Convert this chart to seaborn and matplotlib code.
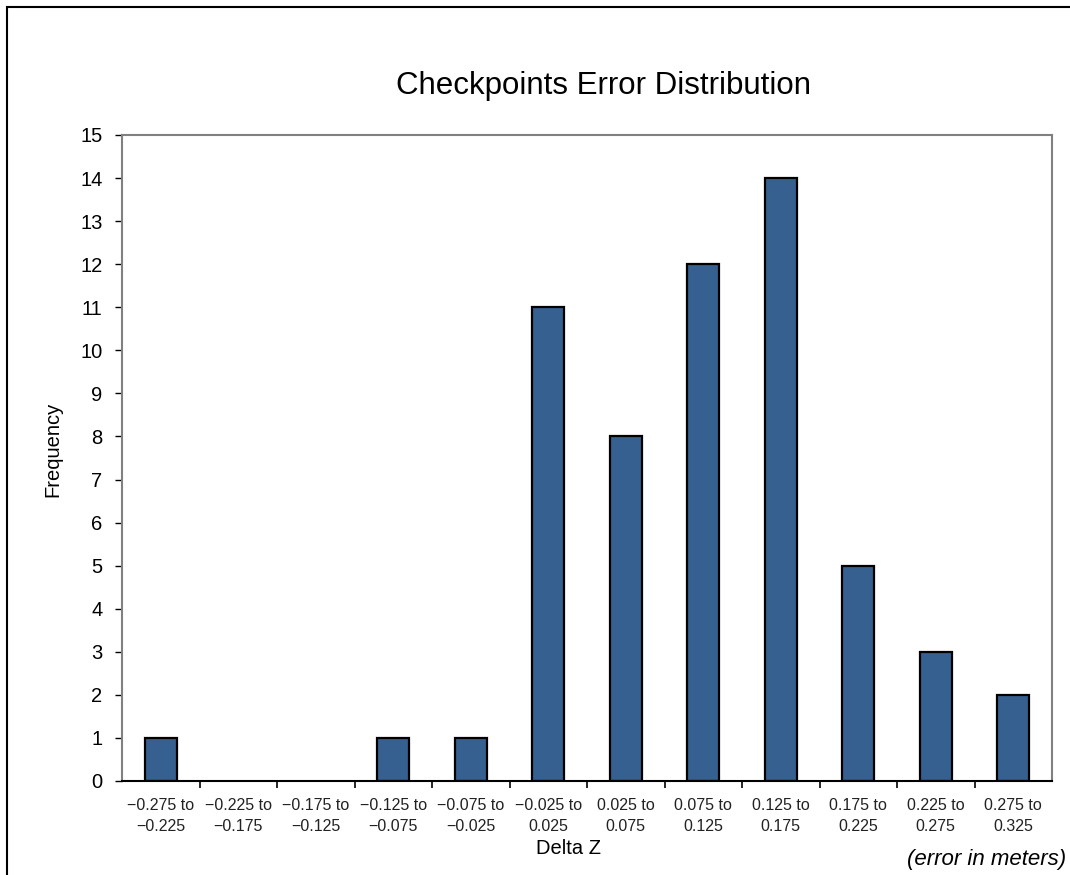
import matplotlib
matplotlib.use("Agg")
import matplotlib.pyplot as plt
from matplotlib.patches import Rectangle
from matplotlib.ticker import FixedLocator, NullFormatter
import seaborn as sns
import pandas as pd

# Error bins (metres) and checkpoint counts
bin_labels = [
    "\u22120.275 to\n\u22120.225", "\u22120.225 to\n\u22120.175", "\u22120.175 to\n\u22120.125",
    "\u22120.125 to\n\u22120.075", "\u22120.075 to\n\u22120.025", "\u22120.025 to\n0.025",
    "0.025 to\n0.075", "0.075 to\n0.125", "0.125 to\n0.175",
    "0.175 to\n0.225", "0.225 to\n0.275", "0.275 to\n0.325",
]
frequency = [1, 0, 0, 1, 1, 11, 8, 12, 14, 5, 3, 2]
y_ticks = list(range(0, 16))

df = pd.DataFrame({"bin": bin_labels, "freq": frequency})

sns.set_theme(style="white")
plt.rcParams["font.family"] = ["Liberation Sans", "DejaVu Sans"]
plt.rcParams["text.color"] = "black"

fig = plt.figure(figsize=(10.7, 8.75), dpi=100)
ax = fig.add_axes([122 / 1070, 1 - 781 / 875, (1052 - 122) / 1070, (781 - 135) / 875])

sns.barplot(data=df, x="bin", y="freq", color="#36608F", saturation=1,
            width=0.41, edgecolor="black", linewidth=1.6, ax=ax)

# empty bins get no outline
for patch in ax.patches:
    if patch.get_height() == 0:
        patch.set_linewidth(0)

ax.set_ylim(0, 15)
ax.set_xlim(-0.5, len(bin_labels) - 0.5)
ax.set_yticks(y_ticks)
ax.tick_params(axis="y", which="major", direction="out", length=5, width=1,
               color="black", labelsize=14.5, pad=9, left=True, labelcolor="black")
ax.tick_params(axis="x", which="major", length=0, labelsize=11.5, pad=12,
               labelcolor="#222222")
ax.xaxis.set_minor_locator(FixedLocator([i + 0.5 for i in range(len(bin_labels) - 1)]))
ax.xaxis.set_minor_formatter(NullFormatter())
ax.tick_params(axis="x", which="minor", direction="out", length=5, width=1.2,
               color="black", bottom=True)
for lbl in ax.get_xticklabels():
    lbl.set_linespacing(1.5)

for side in ("top", "right", "left"):
    ax.spines[side].set_visible(True)
    ax.spines[side].set_color("#808080")
    ax.spines[side].set_linewidth(1.5)
ax.spines["bottom"].set_color("black")
ax.spines["bottom"].set_linewidth(1.5)

ax.set_xlabel("")
ax.set_ylabel("")

fig.text(53 / 1070, 1 - 449 / 875, "Frequency", rotation=90, ha="center", va="center",
         fontsize=14.5)
fig.text(604 / 1070, 1 - 86 / 875, "Checkpoints Error Distribution",
         ha="center", va="center", fontsize=22.5)
fig.text(568 / 1070, 1 - 848 / 875, "Delta Z", ha="center", va="center", fontsize=14.5)
fig.text(1066 / 1070, 1 - 860 / 875, "(error in meters)", ha="right", va="center",
         fontsize=16, style="italic")

# Outer chart frame
fig.patches.append(Rectangle((7 / 1070, -0.05), 1.05, 1 - 7 / 875 + 0.05,
                             transform=fig.transFigure, fill=False,
                             edgecolor="black", linewidth=1.5, zorder=0))

fig.savefig("out.png", dpi=100)
